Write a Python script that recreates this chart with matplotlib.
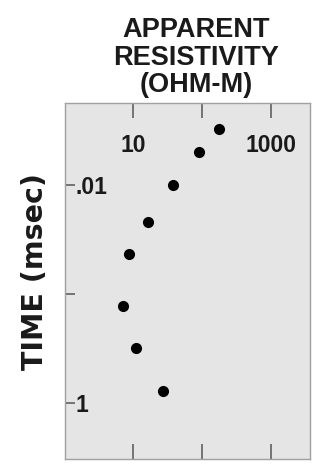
import matplotlib
matplotlib.use("Agg")
import matplotlib.pyplot as plt

# apparent resistivity (ohm-m) vs time (msec)
resistivity = [178, 91, 37.6, 16.3, 8.75, 7.23, 11.0, 26.9]
time_ms = [0.00306, 0.00494, 0.0101, 0.0217, 0.0433, 0.129, 0.315, 0.771]

x_ticks = [10, 100, 1000]
x_labels = ["10", "", "1000"]
y_ticks = [0.01, 0.1, 1]
y_labels = [".01", "", "1"]

plt.rcParams['font.family'] = ['Liberation Sans', 'DejaVu Sans']

fig = plt.figure(figsize=(3.21, 4.69), dpi=100)
ax = fig.add_axes([65 / 321, 1 - 459 / 469, 245 / 321, 356 / 469])
ax.set_facecolor("#e5e5e5")
for s in ax.spines.values():
    s.set_color("#a0a0a0")
    s.set_linewidth(1.0)

ax.plot(resistivity, time_ms, "o", color="black", markersize=7)

ax.set_xscale("log")
ax.set_yscale("log")
ax.set_xlim(1.03, 3670)
ax.set_ylim(3.27, 0.00177)
ax.minorticks_off()

tick_font = {'family': ['Liberation Sans'], 'size': 16.5, 'weight': 'bold'}
ax.set_xticks(x_ticks)
ax.set_xticklabels(x_labels, fontdict=tick_font, color="#1a1a1a")
ax.set_yticks(y_ticks)
ax.set_yticklabels(y_labels, fontdict=tick_font, color="#1a1a1a")
ax.tick_params(axis="x", direction="in", top=True, bottom=True,
               labeltop=True, labelbottom=False, length=11, width=1.1,
               color="#555555", pad=-39)
ax.tick_params(axis="y", direction="in", left=True, right=False,
               length=7, width=1.1, color="#555555", pad=-7.5)
for lbl in ax.get_yticklabels():
    lbl.set_horizontalalignment("left")

fig.text(196 / 321, 1 - 17 / 469, "APPARENT\nRESISTIVITY\n(OHM-M)",
         ha="center", va="top", fontsize=19.5, fontweight="bold",
         linespacing=1.08, color="#1a1a1a")
fig.text(35 / 321, 1 - 271 / 469, "TIME (msec)", rotation=90,
         ha="center", va="center", fontsize=20.5, fontweight="bold",
         family="DejaVu Sans", color="#1a1a1a")

fig.savefig("out.png", dpi=100)
